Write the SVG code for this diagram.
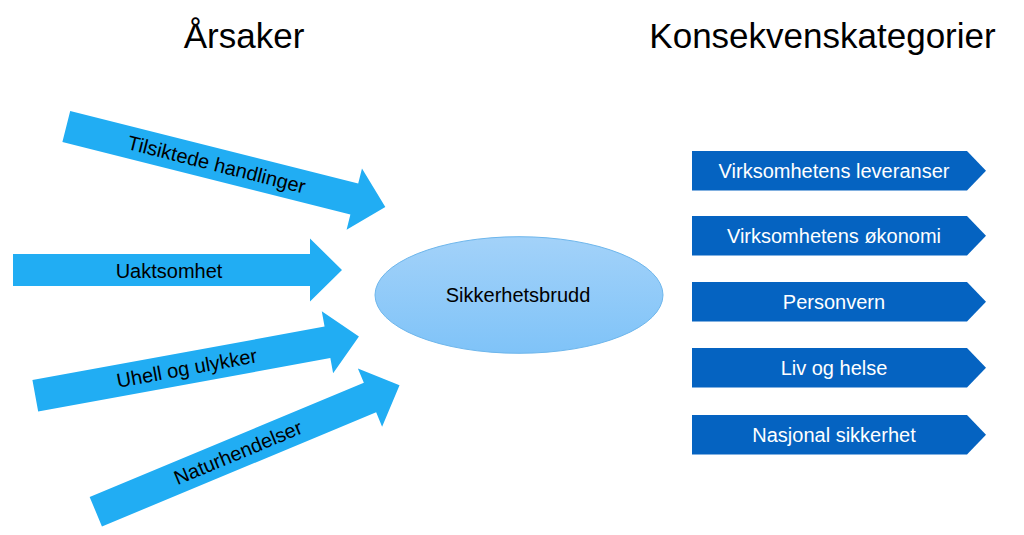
<svg xmlns="http://www.w3.org/2000/svg" width="1024" height="535" viewBox="0 0 1024 535">
<defs>
<style>
.title{font-family:"Liberation Sans",Arial,sans-serif;font-size:35px;fill:#000;text-anchor:middle}
.al{font-family:"Liberation Sans",Arial,sans-serif;font-size:20px;fill:#000;text-anchor:middle}
.bl{font-family:"Liberation Sans",Arial,sans-serif;font-size:20px;fill:#fff;text-anchor:middle}
.arrow{fill:#21ADF3}
.cat{fill:#0563C1}
</style>
<linearGradient id="eg" x1="0" y1="0" x2="0" y2="1">
<stop offset="0" stop-color="#A3D2F9"/>
<stop offset="1" stop-color="#7FC3F8"/>
</linearGradient>
<path id="arr" d="M0,-16 L297,-16 L297,-31.5 L329,0 L297,31.5 L297,16 L0,16 Z"/>
<path id="chev" d="M0,0 L275,0 L294,19.75 L275,39.5 L0,39.5 Z"/>
</defs>
<rect width="1024" height="535" fill="#fff"/>
<text class="title" x="244" y="48">Årsaker</text>
<text class="title" x="822.5" y="48">Konsekvenskategorier</text>
<g id="connectors">
<g id="arrow-tilsiktede" transform="translate(66.3,126.5) rotate(14.15)">
<use href="#arr" class="arrow"/>
<text class="al" x="155" y="7">Tilsiktede handlinger</text>
</g>
<g id="arrow-uaktsomhet" transform="translate(13,270)">
<use href="#arr" class="arrow"/>
<text class="al" x="156" y="8">Uaktsomhet</text>
</g>
<g id="arrow-uhell" transform="translate(35.3,395.8) rotate(-10.37)">
<use href="#arr" class="arrow"/>
<text class="al" x="154" y="7">Uhell og ulykker</text>
</g>
<g id="arrow-natur" transform="translate(95.8,511.7) rotate(-22.6)">
<use href="#arr" class="arrow"/>
<text class="al" x="154" y="7">Naturhendelser</text>
</g>
</g>
<g id="node-sikkerhetsbrudd">
<ellipse cx="519" cy="295" rx="144" ry="58.3" fill="url(#eg)" stroke="#6DB6EC" stroke-width="1"/>
<text class="al" x="518" y="302">Sikkerhetsbrudd</text>
</g>
<g id="node-leveranser" transform="translate(692,151)">
<use href="#chev" class="cat"/>
<text class="bl" x="142" y="27">Virksomhetens leveranser</text>
</g>
<g id="node-okonomi" transform="translate(692,216)">
<use href="#chev" class="cat"/>
<text class="bl" x="142" y="27">Virksomhetens økonomi</text>
</g>
<g id="node-personvern" transform="translate(692,282)">
<use href="#chev" class="cat"/>
<text class="bl" x="142" y="27">Personvern</text>
</g>
<g id="node-liv" transform="translate(692,348)">
<use href="#chev" class="cat"/>
<text class="bl" x="142" y="27">Liv og helse</text>
</g>
<g id="node-nasjonal" transform="translate(692,415)">
<use href="#chev" class="cat"/>
<text class="bl" x="142" y="27">Nasjonal sikkerhet</text>
</g>
</svg>
